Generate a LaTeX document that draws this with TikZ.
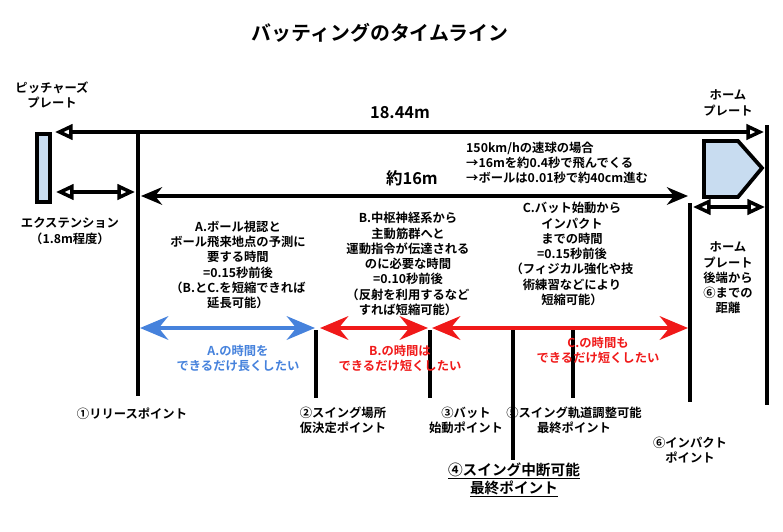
\documentclass[tikz,border=0pt]{standalone}
\usepackage{fontspec}
\setmainfont{Noto Sans CJK JP}[BoldFont={* Bold}]
\usetikzlibrary{arrows.meta}
\definecolor{plateblue}{RGB}{200,220,240}
\definecolor{timeblue}{RGB}{70,130,220}
\definecolor{timered}{RGB}{240,25,25}
\tikzset{
  lbl/.style={font=\bfseries\fontsize{10.5}{13}\selectfont, align=center, inner sep=0pt},
  bar/.style={line width=3.2pt},
  opentip/.tip={Triangle[open,length=15pt,width=13pt]},
  span/.style={line width=3.8pt, {Stealth[length=24pt,width=20pt,inset=8pt]}-{Stealth[length=24pt,width=20pt,inset=8pt]}}
}
\begin{document}
\begin{tikzpicture}[x=0.03cm, y=-0.03cm]
  \useasboundingbox (0,0) rectangle (783,531);

  % title
  \node[font=\bfseries\fontsize{17}{20}\selectfont] (title) at (380,33) {バッティングのタイムライン};

  % --- plates ---
  \draw[line width=2.8pt, fill=plateblue] (37,134) rectangle (50,202);
  \draw[line width=3.2pt, fill=plateblue] (704,141) -- (738,141) -- (762,168) -- (738,197) -- (704,197) -- cycle;
  \node[lbl] (pitcher) at (52,95) {ピッチャーズ\\プレート};
  \node[lbl] (home) at (728,103) {ホーム\\プレート};

  % --- key points ---
  \coordinate (rel) at (138,133);
  \coordinate (rel-b) at (138,396);
  \coordinate (end) at (767,125);
  \coordinate (end-b) at (767,405);
  \draw[bar] (rel) -- (rel-b);
  \draw[bar] (end) -- (end-b);
  \draw[bar] (690,203) -- (690,402);
  \draw[bar] (316,330) -- (316,398);
  \draw[bar] (430,330) -- (430,398);
  \draw[bar] (513,330) -- (513,460);
  \draw[bar] (573,330) -- (573,398);

  % --- distances ---
  \draw[line width=3pt, -opentip] (138,132) -- (55,132);
  \draw[line width=3pt, -opentip] (138,132) -- (764,132);
  \node[font=\bfseries\fontsize{14}{16}\selectfont] (full) at (400,113) {18.44m};
  \draw[line width=3pt, opentip-opentip] (56,192) -- (135,192);
  \draw[line width=3pt, {Stealth[length=18pt,width=15pt,inset=6pt]}-{Stealth[length=18pt,width=15pt,inset=6pt]}] (141,196) -- (688,196);
  \node[font=\bfseries\fontsize{14}{16}\selectfont] (short) at (412,178) {約16m};
  \draw[line width=3pt, opentip-opentip] (693,207) -- (765,207);

  \node[lbl, align=left, anchor=west] (speed) at (466,163) {150km/hの速球の場合\\→16mを約0.4秒で飛んでくる\\→ボールは0.01秒で約40cm進む};
  \node[lbl] (ext) at (70,231) {エクステンション\\（1.8m程度）};
  \node[lbl] (back) at (728,278) {ホーム\\プレート\\後端から\\⑥までの\\距離};

  % --- phases ---
  \node[lbl] (A) at (238,265) {A.ボール視認と\\ボール飛来地点の予測に\\要する時間\\=0.15秒前後\\（B.とC.を短縮できれば\\延長可能）};
  \node[lbl] (B) at (408,264) {B.中枢神経系から\\主動筋群へと\\運動指令が伝達される\\のに必要な時間\\=0.10秒前後\\（反射を利用するなど\\すれば短縮可能）};
  \node[lbl] (C) at (572,254) {C.バット始動から\\インパクト\\までの時間\\=0.15秒前後\\（フィジカル強化や技\\術練習などにより\\短縮可能）};

  \draw[span, timeblue] (140,328) -- (315,328);
  \draw[span, timered] (320,328) -- (428,328);
  \draw[span, timered] (432,328) -- (688,328);
  \node[lbl, text=timeblue] (wantA) at (238,358) {A.の時間を\\できるだけ長くしたい};
  \node[lbl, text=timered] (wantB) at (400,358) {B.の時間は\\できるだけ短くしたい};
  \node[lbl, text=timered] (wantC) at (598,350) {C.の時間も\\できるだけ短くしたい};

  % --- point labels ---
  \node[lbl] (p1) at (132,414) {①リリースポイント};
  \node[lbl] (p2) at (343,420) {②スイング場所\\仮決定ポイント};
  \node[lbl] (p3) at (466,420) {③バット\\始動ポイント};
  \node[lbl] (p5) at (574,420) {⑤スイング軌道調整可能\\最終ポイント};
  \node[lbl] (p6) at (690,450) {⑥インパクト\\ポイント};
  \node[lbl, font=\bfseries\fontsize{12.5}{15.5}\selectfont] (p4) at (514,480) {\underline{④スイング中断可能}\\\underline{最終ポイント}};
\end{tikzpicture}
\end{document}
